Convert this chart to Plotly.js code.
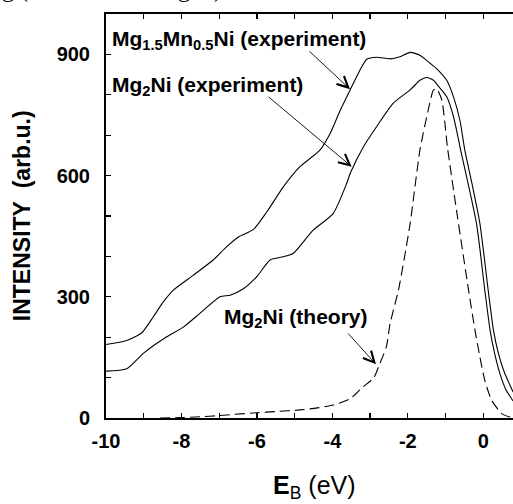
<!DOCTYPE html>
<html>
<head>
<meta charset="utf-8">
<script src="https://cdn.plot.ly/plotly-3.0.1.min.js"></script>
<style>html,body{margin:0;padding:0;background:#fff;overflow:hidden}</style>
</head>
<body>
<div id="chart" style="width:513px;height:504px"></div>
<script>
// Mg1.5Mn0.5Ni (experiment)
const xMn = [-10,-9.45,-9.05,-8.75,-8.5,-8.22,-7.69,-7.16,-6.8,-6.49,-6.09,-5.74,-5.3,-4.86,-4.33,-4.06,-3.8,-3.53,-3.27,-3.09,-2.83,-2.47,-2.21,-1.94,-1.68,-1.41,-1.24,-0.97,-0.79,-0.62,-0.49,-0.3,-0.09,0.13,0.27,0.4,0.55,0.79];
const yMn = [182,192,211,250,285,316,353,391,424,448,467,510,572,622,663,704,760,812,861,888,893,889,894,905,898,878,865,836,795,737,663,580,481,316,217,160,115,64];
// Mg2Ni (experiment)
const xExp = [-10,-9.45,-9.01,-8.39,-7.95,-7.51,-6.98,-6.71,-6.36,-6.01,-5.65,-5.3,-5.04,-4.51,-3.98,-3.62,-3.53,-3.18,-2.83,-2.39,-1.94,-1.68,-1.5,-1.32,-1.24,-0.97,-0.79,-0.6,-0.18,0.04,0.18,0.3,0.44,0.6,0.79];
const yExp = [116,122,160,201,225,259,300,304,320,349,391,399,407,465,506,581,605,671,721,779,812,836,843,836,827,795,746,663,481,316,217,160,110,70,42];
// Mg2Ni (theory)
const xTh = [-8.57,-8,-7.5,-7,-6.6,-6,-5.5,-4.86,-4.4,-3.98,-3.53,-3.2,-2.9,-2.75,-2.57,-2.47,-2.25,-1.94,-1.68,-1.46,-1.32,-1.24,-1.1,-0.95,-0.71,-0.39,-0.22,-0.09,0.04,0.22,0.49,0.71];
const yTh = [0,1,3,6,9,13,16,20,25,32,48,76,100,133,176,234,316,481,663,762,812,815,787,670,514,316,217,151,93,44,11,2];

// tick positions (every unit / every 100) and their labels (blank = unlabelled tick)
const xTickVals = [-10,-9,-8,-7,-6,-5,-4,-3,-2,-1,0];
const xTickText = ['-10','','-8','','-6','','-4','','-2','','0'];
const yTickVals = [0,100,200,300,400,500,600,700,800,900,1000];
const yTickText = ['0','','','300','','','600','','','900',''];

const lbl = {family:'Liberation Sans, Arial, sans-serif', size:21, color:'#000'};
const traces = [
  {x:xMn, y:yMn, mode:'lines', line:{color:'#000', width:1.1, shape:'spline', smoothing:0.6}, hoverinfo:'skip'},
  {x:xExp, y:yExp, mode:'lines', line:{color:'#000', width:1.1, shape:'spline', smoothing:0.6}, hoverinfo:'skip'},
  {x:xTh, y:yTh, mode:'lines', line:{color:'#000', width:1.1, dash:'10px,5px', shape:'spline', smoothing:0.6}, hoverinfo:'skip'}
];
const arrow = (x, y, ax, ay) => ({x:x, y:y, ax:ax, ay:ay, xref:'x', yref:'y', axref:'x', ayref:'y', text:'', showarrow:true, arrowhead:5, arrowsize:2.4, arrowwidth:0.9, arrowcolor:'#000'});
const layout = {
  width:513, height:504,
  margin:{l:106, r:0, t:14, b:86},
  paper_bgcolor:'#fff', plot_bgcolor:'rgba(0,0,0,0)',
  showlegend:false,
  xaxis:{range:[-10,0.787], tickmode:'array', tickvals:xTickVals, ticktext:xTickText, ticks:'inside', ticklen:5, tickwidth:1.3, tickcolor:'#000',
    showline:true, linecolor:'#000', linewidth:2, mirror:'ticks', showgrid:false, zeroline:false, layer:'above traces',
    tickfont:{family:'Liberation Sans, Arial, sans-serif', size:20, weight:'bold', color:'#000'}, ticklabelstandoff:4},
  yaxis:{range:[0,1000], tickmode:'array', tickvals:yTickVals, ticktext:yTickText, ticks:'inside', ticklen:5, tickwidth:1.3, tickcolor:'#000',
    showline:true, linecolor:'#000', linewidth:2, mirror:false, showgrid:false, zeroline:false, layer:'above traces',
    tickfont:{family:'Liberation Sans, Arial, sans-serif', size:20, weight:'bold', color:'#000'}, ticklabelstandoff:10},
  annotations:[
    {x:-9.894, y:936, xref:'x', yref:'y', xanchor:'left', yanchor:'middle', showarrow:false,
     text:'<b>Mg<sub>1.5</sub>Mn<sub>0.5</sub>Ni (experiment)</b>', font:lbl},
    {x:-9.894, y:823, xref:'x', yref:'y', xanchor:'left', yanchor:'middle', showarrow:false,
     text:'<b>Mg<sub>2</sub>Ni (experiment)</b>', font:lbl},
    {x:-6.926, y:248, xref:'x', yref:'y', xanchor:'left', yanchor:'middle', showarrow:false,
     text:'<b>Mg<sub>2</sub>Ni (theory)</b>', font:lbl},
    arrow(-3.533, 814, -4.646, 911),
    arrow(-3.488, 622, -5.733, 798),
    arrow(-2.844, 133, -3.62, 213),
    {x:-0.2064, y:0.502, xref:'paper', yref:'paper', xanchor:'center', yanchor:'middle', textangle:-90, showarrow:false,
     text:'<b>INTENSITY\u00a0 (arb.u.)</b>', font:{family:'Liberation Sans, Arial, sans-serif', size:23, color:'#000'}},
    {x:-4.474, y:-0.125, xref:'x', yref:'paper', xanchor:'center', yanchor:'top', showarrow:false,
     text:'<b>E</b><sub>B</sub> (eV)', font:{family:'Liberation Sans, Arial, sans-serif', size:25, color:'#000'}},
    {x:-0.26, y:1.024, xref:'paper', yref:'paper', xanchor:'left', yanchor:'bottom', showarrow:false,
     text:'g (not shown in Fig. 5).', font:{family:'Liberation Serif, Times New Roman, serif', size:24, color:'#000'}}
  ]
};
Plotly.newPlot('chart', traces, layout, {displayModeBar:false, staticPlot:true});
</script>
</body>
</html>
